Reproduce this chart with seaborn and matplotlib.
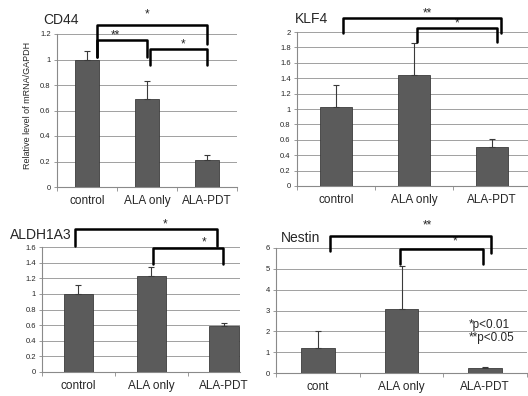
import numpy as np
import matplotlib
matplotlib.use("Agg")
import matplotlib.pyplot as plt
import seaborn as sns
from matplotlib.ticker import FixedLocator, FuncFormatter

# values
groups = ["control", "ALA only", "ALA-PDT"]
groups_nestin = ["cont", "ALA only", "ALA-PDT"]

cd44_mean = [1.00, 0.69, 0.215]
cd44_err = [0.065, 0.145, 0.035]

klf4_mean = [1.02, 1.44, 0.51]
klf4_err = [0.29, 0.42, 0.10]

aldh_mean = [1.00, 1.23, 0.59]
aldh_err = [0.12, 0.12, 0.04]

nestin_mean = [1.20, 3.05, 0.26]
nestin_err = [0.80, 2.10, 0.03]

sns.set_style("white")
plt.rcParams["font.family"] = ["Liberation Sans", "DejaVu Sans"]

BAR = "#5b5b5b"
W, H = 528, 396


def px_axes(fig, left, right, top, bottom):
    # pixel box -> figure fraction
    return fig.add_axes([left / W, 1 - bottom / H, (right - left) / W, (bottom - top) / H])


def draw_panel(ax, labels, means, errs, ymax, ystep, xmax=2.5):
    sns.barplot(x=labels, y=means, color=BAR, saturation=1, width=0.4,
                edgecolor="#3c3c3c", linewidth=0.6, ax=ax, zorder=3)
    ax.errorbar(range(len(means)), means, yerr=[np.zeros(len(errs)), errs],
                fmt="none", ecolor="#3a3a3a", elinewidth=0.8, capsize=2,
                capthick=0.8, zorder=4)
    ax.set_xlim(-0.5, xmax)
    ax.set_ylim(0, ymax)
    yt = np.arange(0, ymax + ystep / 2, ystep)
    ax.set_yticks(yt)
    ax.yaxis.set_major_formatter(FuncFormatter(lambda v, p: f"{v:g}"))
    ax.yaxis.grid(True, color="#a0a0a0", linewidth=0.7, zorder=0)
    ax.set_axisbelow(True)
    for s in ["top", "right"]:
        ax.spines[s].set_visible(False)
    for s in ["left", "bottom"]:
        ax.spines[s].set_color("#8a8a8a")
        ax.spines[s].set_linewidth(0.8)
    ax.tick_params(axis="y", labelsize=5.5, length=2.5, width=0.6, color="#8a8a8a",
                   pad=2, left=True)
    ax.tick_params(axis="x", labelsize=8.5, length=0, pad=6)
    ax.xaxis.set_minor_locator(FixedLocator([-0.5, 0.5, 1.5, 2.5]))
    ax.tick_params(axis="x", which="minor", length=3, width=0.6, color="#8a8a8a",
                   bottom=True)
    ax.set_xlabel("")
    ax.set_ylabel("")


def bracket(ax, x1, x2, ytop, yl, yr, star, sx, sy):
    ax.plot([x1, x1, x2, x2], [yl, ytop, ytop, yr], color="black", lw=1.8,
            clip_on=False, solid_joinstyle="round", zorder=5)
    ax.text(sx, sy, star, ha="center", va="center", fontsize=8.5, clip_on=False)


fig = plt.figure(figsize=(W / 100, H / 100), dpi=100)

# CD44
ax1 = px_axes(fig, 57, 237, 34, 187)
draw_panel(ax1, groups, cd44_mean, cd44_err, 1.2, 0.2)
bracket(ax1, 0.17, 2.0, 1.27, 1.02, 1.12, "*", 1.0, 1.35)
bracket(ax1, 0.17, 1.0, 1.153, 1.02, 1.02, "**", 0.47, 1.19)
bracket(ax1, 1.05, 2.0, 1.082, 0.96, 0.96, "*", 1.6, 1.12)
fig.text(43 / W, 1 - 20 / H, "CD44", fontsize=10, va="center")
fig.text(28 / W, 1 - 105 / H, "Relative level of mRNA/GAPDH", rotation=90,
         fontsize=6.5, ha="center", va="center")

# KLF4
ax2 = px_axes(fig, 297, 528, 32, 186)
draw_panel(ax2, groups, klf4_mean, klf4_err, 2.0, 0.2, xmax=2.46)
bracket(ax2, 0.09, 2.12, 2.18, 1.99, 1.99, "**", 1.17, 2.24)
bracket(ax2, 1.04, 2.06, 2.05, 1.87, 1.87, "*", 1.55, 2.11)
fig.text(295 / W, 1 - 19 / H, "KLF4", fontsize=10, va="center")

# ALDH1A3
ax3 = px_axes(fig, 42, 240, 247, 372)
draw_panel(ax3, groups, aldh_mean, aldh_err, 1.6, 0.2, xmax=2.22)
bracket(ax3, -0.05, 1.91, 1.83, 1.61, 1.61, "*", 1.19, 1.89)
bracket(ax3, 1.03, 1.99, 1.59, 1.38, 1.38, "*", 1.73, 1.66)
fig.text(10 / W, 1 - 235 / H, "ALDH1A3", fontsize=10, va="center")

# Nestin
ax4 = px_axes(fig, 276, 527, 248, 373)
draw_panel(ax4, groups_nestin, nestin_mean, nestin_err, 6, 1)
bracket(ax4, 0.14, 2.07, 6.6, 5.86, 5.77, "**", 1.31, 7.1)
bracket(ax4, 0.98, 1.97, 5.96, 5.24, 5.24, "*", 1.64, 6.3)
fig.text(281 / W, 1 - 238 / H, "Nestin", fontsize=10, va="center")
ax4.text(1.8, 2.0, "*p<0.01\n**p<0.05", fontsize=8.5, va="center", ha="left",
         linespacing=1.1)

fig.savefig("out.png", dpi=100)
